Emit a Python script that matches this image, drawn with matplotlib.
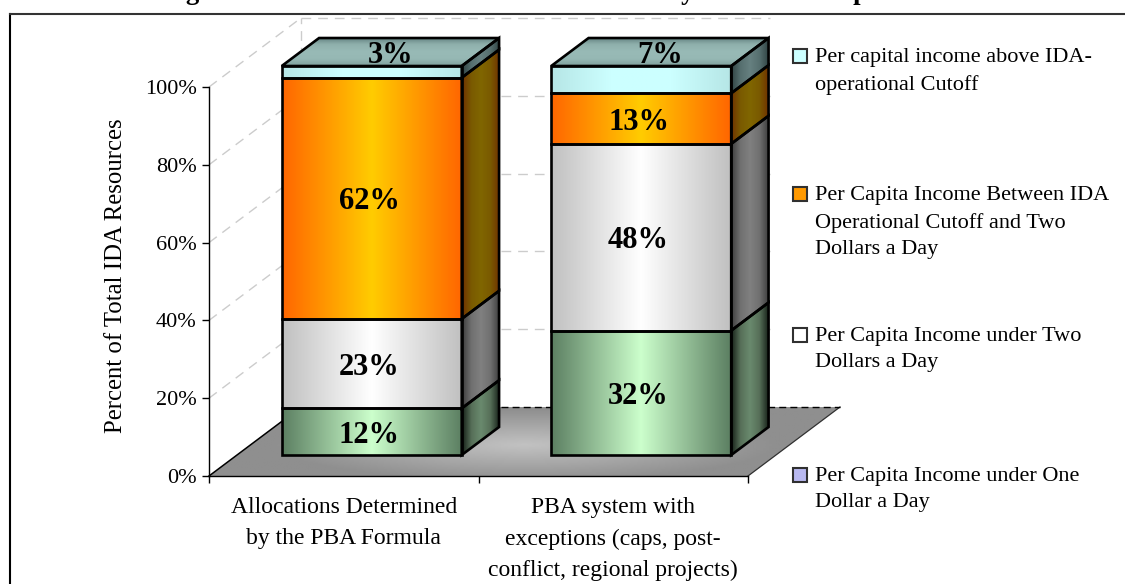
import numpy as np
import matplotlib
matplotlib.use("Agg")
import matplotlib.pyplot as plt
from matplotlib.colors import LinearSegmentedColormap
from matplotlib.patches import Polygon, Rectangle

categories = ["Allocations Determined\nby the PBA Formula",
              "PBA system with\nexceptions (caps, post-\nconflict, regional projects)"]
band_below_one = [12, 32]
band_under_two = [23, 48]
band_between = [62, 13]
band_above = [3, 7]
y_ticks = [0, 20, 40, 60, 80, 100]
y_label = "Percent of Total IDA Resources"
title = "Figure 7: Allocation of Total IDA Resources by Income Group"
legend_labels = ["Per capital income above IDA-\noperational Cutoff",
                 "Per Capita Income Between IDA\nOperational Cutoff and Two\nDollars a Day",
                 "Per Capita Income under Two\nDollars a Day",
                 "Per Capita Income under One\nDollar a Day"]

W, H = 1125, 584
plt.rcParams["font.family"] = "Liberation Serif"
fig = plt.figure(figsize=(W / 100, H / 100), dpi=100)
L, R, T, B = 209, 748, 87, 476
ax = fig.add_axes([L / W, 1 - B / H, (R - L) / W, (B - T) / H])
ax.set_xlim(0, 2)
ax.set_ylim(0, 100)
ax.set_autoscale_on(False)
ax.patch.set_visible(False)
for s in ("top", "right"):
    ax.spines[s].set_visible(False)
ax.spines["left"].set_zorder(30)
ax.spines["bottom"].set_zorder(30)

DX = 92 / ((R - L) / 2)
DY = 69 / ((B - T) / 100)


def P(x, y, d):
    return (x + d * DX, y + d * DY)


def face(pts, colors=None, vertical=False, zorder=5, edge=True, lw=1.9, rgb=None):
    pts = np.array(pts)
    x0, x1, y0, y1 = pts[:, 0].min(), pts[:, 0].max(), pts[:, 1].min(), pts[:, 1].max()
    ext = (x0, x1, y0, y1)
    if rgb is not None:
        im = ax.imshow(rgb, cmap="gray", vmin=0, vmax=1, extent=ext, origin="lower",
                       aspect="auto", zorder=zorder, interpolation="bilinear")
    else:
        cmap = LinearSegmentedColormap.from_list("f", colors)
        g = np.linspace(0, 1, 256)
        arr = g[:, None] if vertical else g[None, :]
        im = ax.imshow(arr, cmap=cmap, extent=ext, origin="lower",
                       aspect="auto", zorder=zorder, interpolation="bilinear")
    clip = Polygon(pts, closed=True, transform=ax.transData)
    im.set_clip_path(clip)
    im.set_clip_box(fig.bbox)
    if edge:
        ax.add_patch(Polygon(pts, closed=True, fill=False, edgecolor="black",
                             linewidth=lw, zorder=zorder + 0.1, clip_on=False,
                             joinstyle="miter"))


# back wall and side wall grid
GRID = "#cccccc"
WALL_END = (770 - L - 92) / ((R - L) / 2)
for t in y_ticks[1:]:
    a, b = P(0, t, 0), P(0, t, 1)
    ax.plot([a[0], b[0]], [a[1], b[1]], color=GRID, lw=1, ls=(0, (7, 5)), zorder=1, clip_on=False)
    c = P(WALL_END, t, 1)
    ax.plot([b[0], c[0]], [b[1], c[1]], color=GRID, lw=1, ls=(0, (7, 5)), zorder=1, clip_on=False)
a, b = P(0, 0, 1), P(0, 100, 1)
ax.plot([a[0], b[0]], [a[1], b[1]], color=GRID, lw=1, ls=(0, (7, 5)), zorder=1, clip_on=False)

# floor: soft light patch in the middle, darker towards the edges
floor = [P(0, 0, 0), P(2, 0, 0), P(2, 0, 1), P(0, 0, 1)]
u, v = np.meshgrid(np.linspace(-1, 1, 200), np.linspace(-1, 1, 100))
r = np.clip(np.sqrt((u / 0.8) ** 2 + ((v + 0.1) / 1.05) ** 2), 0, 1)
shade = 0.76 - (0.76 - 0.56) * r
face(floor, rgb=shade, zorder=2, edge=False)
ax.plot(*zip(floor[0], floor[3]), color="black", lw=1.1, zorder=3, clip_on=False)
ax.plot(*zip(floor[1], floor[2]), color="#303030", lw=0.9, zorder=3, clip_on=False)
ax.plot(*zip(floor[3], floor[2]), color="black", lw=1, ls=(0, (5, 3)), zorder=3, clip_on=False)

# bars
series = [band_below_one, band_under_two, band_between, band_above]
front_cols = [["#5c7f62", "#ccffcc", "#5c7f62"],
              ["#c0c0c0", "#ffffff", "#c0c0c0"],
              ["#ff6600", "#ffcc00", "#ff6600"],
              ["#b6e6e6", "#ccffff", "#ccffff", "#b6e6e6"]]
side_cols = [["#151f17", "#566f58", "#6a8a6e", "#566f58", "#151f17"],
             ["#3c3c3c", "#707070", "#808080", "#707070", "#3c3c3c"],
             ["#703000", "#7a5a00", "#806600", "#7a5a00", "#703000"],
             ["#2f4242", "#566f6f", "#668080", "#566f6f", "#2f4242"]]
top_cols = ["#7fa09c", "#96b8b4", "#98bab6", "#8fb0ac", "#5f7d7d"]
D0, D1 = 0.304, 0.71
WIDTH = 180 / ((R - L) / 2)
for i in range(len(categories)):
    x0 = i + 0.5 - WIDTH / 2
    x1 = i + 0.5 + WIDTH / 2
    base = 0
    for k, vals in enumerate(series):
        val = vals[i]
        top = base + val
        face([P(x0, base, D0), P(x1, base, D0), P(x1, top, D0), P(x0, top, D0)],
             front_cols[k], zorder=6 + i)
        face([P(x1, base, D0), P(x1, base, D1), P(x1, top, D1), P(x1, top, D0)],
             side_cols[k], zorder=6 + i)
        if k == len(series) - 1:
            face([P(x0, top, D0), P(x1, top, D0), P(x1, top, D1), P(x0, top, D1)],
                 top_cols, vertical=True, zorder=6 + i)
            lx, ly = P(i + 0.5, top, (D0 + D1) / 2)
        else:
            lx, ly = P(i + 0.49, base + val / 2, D0)
        ax.annotate(f"{val}%", xy=(lx, ly), xytext=(0, -2.6), textcoords="offset points",
                    ha="center", va="center", fontsize=22, fontweight="bold",
                    color="black", zorder=20, annotation_clip=False)
        base = top

# axes
ax.set_yticks(y_ticks)
ax.set_yticklabels([f"{t}%" for t in y_ticks], fontsize=16)
ax.set_xticks([0, 1, 2])
ax.set_xticklabels([])
ax.tick_params(axis="both", length=5, width=1, color="black", pad=4)
ax.spines["left"].set_linewidth(1)
ax.spines["bottom"].set_linewidth(1)
for i, c in enumerate(categories):
    ax.annotate(c, xy=(i + 0.5, 0), xycoords=("data", "axes fraction"), xytext=(0, -15),
                textcoords="offset points", ha="center", va="top", fontsize=17,
                linespacing=1.65, annotation_clip=False)

fig.text(116 / W, 1 - 276 / H, y_label, rotation=90, ha="center", va="center", fontsize=17.8)

# legend
keys = ["#ccffff", "#ff9900", "#ffffff", "#b8b8f0"]
key_y = [56, 194, 335, 475]
for lab, col, yy in zip(legend_labels, keys, key_y):
    fig.add_artist(Rectangle((793 / W, 1 - (yy + 7) / H), 14 / W, 14 / H, transform=fig.transFigure,
                             facecolor=col, edgecolor="#303030", linewidth=1.5))
    fig.text(815 / W, 1 - (yy - 8) / H, lab, ha="left", va="top", fontsize=16, linespacing=1.53)

# frame and clipped title
fig.add_artist(plt.Line2D([10 / W, 10 / W], [0, 1 - 14 / H], color="black", lw=1.5))
fig.add_artist(plt.Line2D([10 / W, 1], [1 - 14 / H, 1 - 14 / H], color="#333333", lw=1.5))
fig.text(515 / W, 1 + 1 / H, title, ha="center", va="baseline", fontsize=19.3, fontweight="bold")

fig.savefig("out.png", dpi=100)
